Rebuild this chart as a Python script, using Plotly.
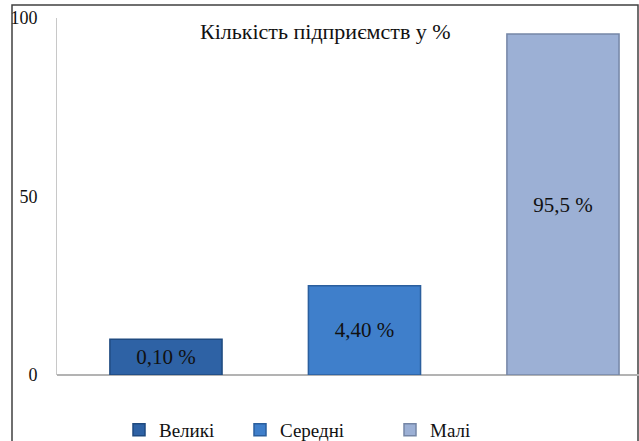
import plotly.graph_objects as go

categories = ["Великі", "Середні", "Малі"]
values = [10, 25, 95.5]
labels = ["0,10 %", "4,40 %", "95,5 %"]
colors = ["#2e62a5", "#3f7fcb", "#9cb0d5"]
edge_colors = ["#1f4a80", "#2b5f9e", "#7586a6"]
title_text = "Кількість підприємств у %"
y_ticks = [0, 50, 100]

W, H = 639, 441
ml, mr, mt, mb = 57, 0, 18, 66
pw, ph = W - ml - mr, H - mt - mb

def px_x(p):
    return (p - ml) / pw

def px_y(p):
    return (H - mb - p) / ph

font_family = "Liberation Serif"

fig = go.Figure()
legend_names = ["legend", "legend2", "legend3"]
for i, (c, v, lab) in enumerate(zip(categories, values, labels)):
    fig.add_trace(go.Bar(
        x=[i], y=[v], name=c, text=[lab], textposition="inside",
        insidetextanchor="middle",
        textfont=dict(family=font_family, size=21, color="#111111"),
        marker=dict(color=colors[i], line=dict(color=edge_colors[i], width=1.5)),
        width=0.565, legend=legend_names[i], showlegend=True,
    ))

legend_x_px = [119, 240, 390]
common_legend = dict(orientation="h", yanchor="middle", xanchor="left",
                     font=dict(family=font_family, size=19, color="#111111"),
                     bgcolor="rgba(0,0,0,0)", itemwidth=30)
fig.update_layout(
    legend=dict(x=px_x(legend_x_px[0]), y=px_y(430), **common_legend),
    legend2=dict(x=px_x(legend_x_px[1]), y=px_y(430), **common_legend),
    legend3=dict(x=px_x(legend_x_px[2]), y=px_y(430), **common_legend),
)

fig.update_layout(
    width=W, height=H,
    font=dict(family=font_family),
    margin=dict(l=ml, r=mr, t=mt, b=mb, autoexpand=False),
    paper_bgcolor="white", plot_bgcolor="white",
    uniformtext=dict(mode=False),
    xaxis=dict(range=[-0.549, 2.383], showticklabels=False, showgrid=False,
               zeroline=False, showline=False, ticks=""),
    yaxis=dict(range=[0, 100], tickvals=y_ticks, showgrid=False,
               zeroline=True, zerolinecolor="#b3b3b3", zerolinewidth=1.5,
               showline=True, linecolor="#c8c8c8", linewidth=1,
               ticks="", ticklabelstandoff=15,
               tickfont=dict(family=font_family, size=18, color="#111111")),
    annotations=[dict(text=title_text, xref="paper", yref="paper",
                      x=px_x(325), y=px_y(32), xanchor="center", yanchor="middle",
                      showarrow=False,
                      font=dict(family=font_family, size=22, color="#111111"))],
    shapes=[dict(type="rect", xref="paper", yref="paper",
                 x0=px_x(12), x1=px_x(638), y0=px_y(460), y1=px_y(5),
                 line=dict(color="#404040", width=1.5), fillcolor="rgba(0,0,0,0)",
                 layer="below")],
)

fig.write_html("out.html", config={"displayModeBar": False},
               post_script="document.body.style.margin='0px';document.body.style.overflow='hidden';")
